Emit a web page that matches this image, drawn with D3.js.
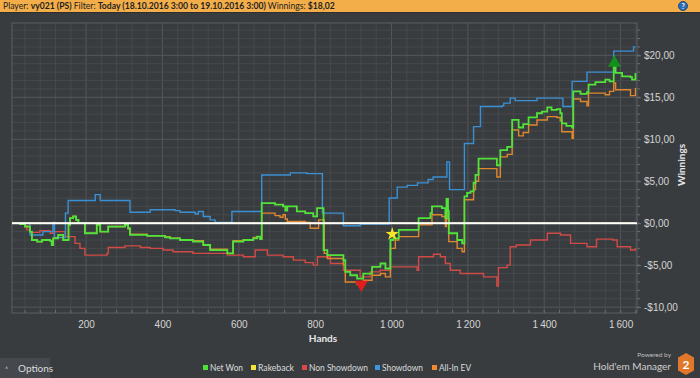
<!DOCTYPE html>
<html>
<head>
<meta charset="utf-8">
<script src="https://cdn.jsdelivr.net/npm/d3@7"></script>
<style>
  body { margin: 0; background: #393c3f; overflow: hidden; }
  svg { display: block; font-family: Lato, "Open Sans", sans-serif; }
</style>
</head>
<body>
<div id="chart"></div>
<script>
// Series: [hands, winnings $]
const netWon = [[6,0],[27,-0.1],[40,-0.4],[53,-1.0],[58,-2.0],[72,-2.2],[85,-2.0],[106,-2.1],[110,-2.6],[114,-1.8],[127,-1.4],[140,-2.0],[154,-0.2],[158,0.6],[166,0.8],[174,0.4],[180,0],[197,-1.2],[228,-0.2],[237,-1.0],[258,-0.4],[302,-0.2],[310,-0.6],[315,-1.4],[360,-1.5],[407,-1.7],[420,-1.8],[446,-2.0],[480,-2.2],[507,-2.6],[525,-3.2],[570,-3.6],[585,-2.2],[612,-2.0],[638,-1.8],[648,-1.6],[656,-1.9],[660,2.4],[695,2.2],[716,2.0],[722,1.5],[727,2.0],[752,1.4],[774,1.2],[795,0.8],[805,1.8],[822,-3.2],[832,-3.8],[874,-4.4],[879,-5.8],[892,-6.2],[910,-6.6],[926,-6.0],[949,-5.2],[971,-4.8],[984,-5.4],[997,-2.0],[1005,-1.8],[1019,-0.8],[1071,0.6],[1102,1.2],[1106,2.0],[1132,1.8],[1141,0.6],[1144,2.9],[1148,1.5],[1150,-1.2],[1172,-2.0],[1185,-2.4],[1191,3.2],[1198,3.6],[1207,3.8],[1215,4.8],[1220,5.75],[1228,7.7],[1276,6.9],[1285,8.7],[1303,9.1],[1316,12.3],[1333,11.4],[1345,11.8],[1359,12.6],[1381,13.1],[1394,13.3],[1408,13.8],[1419,13.5],[1433,13.6],[1442,13.1],[1446,11.9],[1458,11.6],[1473,11.4],[1476,15.7],[1495,15.4],[1512,15.6],[1516,16.5],[1534,16.8],[1560,17.1],[1571,16.9],[1582,18.7],[1587,17.9],[1604,17.5],[1626,17.4],[1630,17.1],[1639,17.9]];

const allInEV = [[6,0],[27,-0.1],[40,-0.4],[53,-1.0],[58,-2.0],[72,-2.2],[85,-2.0],[106,-2.1],[110,-2.6],[114,-1.8],[127,-1.4],[140,-2.0],[154,-0.2],[158,0.6],[166,0.8],[174,0.4],[180,0],[197,-1.2],[228,-0.2],[237,-1.0],[258,-0.4],[302,-0.2],[310,-0.7],[315,-1.3],[360,-1.5],[407,-1.6],[420,-1.8],[446,-2.0],[480,-2.1],[507,-2.6],[525,-3.1],[570,-3.6],[585,-2.1],[612,-2.0],[638,-1.7],[648,-1.6],[656,-1.9],[660,1.2],[695,0.9],[708,0.7],[716,1.0],[722,0.5],[727,0.2],[774,0.1],[787,-0.6],[809,0.4],[824,-3.6],[832,-4.2],[874,-5.0],[879,-7.0],[910,-7.3],[926,-6.8],[949,-6.2],[971,-6.0],[984,-6.4],[997,-3.0],[1010,-2.0],[1019,-1.6],[1071,-0.2],[1106,1.0],[1132,0.8],[1141,-0.4],[1144,1.8],[1148,0.5],[1150,-2.2],[1172,-3.0],[1185,-3.4],[1191,2.8],[1207,2.8],[1215,4.0],[1220,5.0],[1228,6.5],[1276,5.5],[1285,7.9],[1303,8.2],[1316,11.1],[1333,10.4],[1345,10.8],[1359,11.7],[1381,12.3],[1408,12.7],[1433,12.6],[1442,12.2],[1446,10.9],[1473,10.1],[1476,14.8],[1495,14.5],[1512,14.0],[1516,15.5],[1560,15.3],[1571,15.7],[1582,16.7],[1587,15.9],[1626,15.2],[1639,16.1]];

const showdown = [[6,0],[45,0],[53,-1.4],[87,-1.0],[113,0.1],[117,-1.7],[146,1.2],[153,2.7],[224,3.4],[237,2.7],[315,1.3],[368,1.6],[433,1.5],[446,1.3],[486,1.1],[494,1.4],[507,0.8],[525,0.4],[538,0.1],[582,1.4],[660,5.75],[735,6.0],[778,5.9],[819,1.2],[874,-0.3],[918,-0.1],[994,3.0],[1015,4.3],[1041,4.5],[1068,4.8],[1096,5.2],[1109,5.5],[1145,7.3],[1152,4.0],[1191,9.5],[1215,11.5],[1233,13.9],[1290,14.0],[1294,14.3],[1311,14.9],[1324,14.6],[1381,14.9],[1449,13.9],[1473,16.9],[1512,18.0],[1582,20.5],[1634,21.0],[1639,21.0]];

const nonShowdown = [[6,0],[40,-0.3],[45,-0.8],[53,-1.1],[79,-0.9],[106,-1.2],[113,-1.0],[145,-1.6],[171,-2.4],[184,-3.0],[197,-3.8],[255,-3.6],[258,-2.9],[302,-2.7],[342,-2.9],[368,-3.0],[402,-3.2],[428,-3.4],[480,-3.6],[570,-3.8],[612,-4.0],[643,-3.2],[675,-3.8],[716,-4.0],[743,-4.4],[774,-4.7],[795,-5.0],[806,-4.0],[840,-4.8],[874,-5.6],[918,-6.4],[944,-5.8],[970,-5.6],[997,-5.2],[1067,-5.6],[1071,-4.0],[1110,-3.7],[1128,-4.0],[1141,-4.8],[1154,-5.6],[1180,-6.0],[1241,-6.4],[1276,-7.5],[1280,-5.3],[1303,-5.0],[1311,-2.8],[1327,-2.6],[1364,-2.0],[1408,-1.2],[1443,-1.4],[1469,-2.4],[1512,-2.8],[1537,-1.9],[1580,-2.0],[1591,-2.8],[1626,-3.2],[1639,-3.0]];

const rakeback = [[6,0],[1639,0]];

// Markers on the Net Won line
const markers = [
  { type: "star", hand: 1002, value: -1.3, color: "#f4e52a" },
  { type: "down", hand: 921, value: -7.3, color: "#e01e1e" },
  { type: "up", hand: 1584, value: 19.1, color: "#138f1c" }
];

const legendNames = ["Net Won", "Rakeback", "Non Showdown", "Showdown", "All-In EV"];
const legendColors = ["#4fe03a", "#f2e43a", "#e04848", "#3a96e0", "#ef8a2e"];
const xTicks = [200, 400, 600, 800, 1000, 1200, 1400, 1600];
const yTicks = [-10, -5, 0, 5, 10, 15, 20];

const width = 700, height = 378;
const plot = { left: 12, right: 637, top: 23, bottom: 313 };

const svg = d3.select("#chart").append("svg")
  .attr("width", width)
  .attr("height", height);

svg.append("rect").attr("width", width).attr("height", height).attr("fill", "#393c3f");

// Top bar
svg.append("rect").attr("x", 0).attr("y", 0).attr("width", width).attr("height", 12).attr("fill", "#f3ae4a");
svg.append("line").attr("x1", 0).attr("x2", width).attr("y1", 12.5).attr("y2", 12.5).attr("stroke", "#2c2e30");
const title = svg.append("text").attr("x", 3).attr("y", 9).attr("font-size", "8.6px").attr("fill", "#222");
title.append("tspan").text("Player: ");
title.append("tspan").attr("font-weight", "bold").text("vy021 (PS)");
title.append("tspan").text(" Filter: ");
title.append("tspan").attr("font-weight", "bold").text("Today (18.10.2016 3:00 to 19.10.2016 3:00)");
title.append("tspan").text(" Winnings: ");
title.append("tspan").attr("font-weight", "bold").text("$18,02");
// help icon
svg.append("circle").attr("cx", 683).attr("cy", 6).attr("r", 4.5).attr("fill", "#2d6cb5").attr("stroke", "#1b4a85");
svg.append("text").attr("x", 683).attr("y", 9).attr("text-anchor", "middle").attr("font-size", "7px")
  .attr("font-weight", "bold").attr("fill", "#fff").text("?");

// Scales
const x = d3.scaleLinear().domain([6, 1643]).range([plot.left, plot.right]);
const y = d3.scaleLinear().domain([-10.7, 23.85]).range([plot.bottom, plot.top]);

// Grid
const grid = svg.append("g");
grid.selectAll(".vminor").data(d3.range(40, 1641, 40)).join("line")
  .attr("x1", d => x(d)).attr("x2", d => x(d)).attr("y1", plot.top).attr("y2", plot.bottom)
  .attr("stroke", d => d % 200 === 0 ? "#53575b" : "#45494d").attr("stroke-width", 1);
grid.selectAll(".hminor").data(d3.range(-10, 24, 1)).join("line")
  .attr("class", "hminor")
  .attr("x1", plot.left).attr("x2", plot.right).attr("y1", d => y(d)).attr("y2", d => y(d))
  .attr("stroke", d => d % 5 === 0 ? "#53575b" : "#45494d").attr("stroke-width", 1);
svg.append("rect")
  .attr("x", plot.left).attr("y", plot.top)
  .attr("width", plot.right - plot.left).attr("height", plot.bottom - plot.top)
  .attr("fill", "none").attr("stroke", "#5a5e62");

// Axes
const yAxis = d3.axisRight(y).tickValues(yTicks)
  .tickFormat(d => (d < 0 ? "-$" : "$") + Math.abs(d).toFixed(2).replace(".", ","))
  .tickSize(4);
const gy = svg.append("g").attr("transform", `translate(${plot.right},0)`).call(yAxis);
gy.select(".domain").remove();
gy.selectAll("line").attr("stroke", "#6a6e72");
gy.selectAll("text").attr("fill", "#d4d4d4").attr("font-size", "10px").attr("x", 7);
svg.append("g").attr("transform", `translate(${plot.right},0)`)
  .selectAll("line").data(d3.range(-10, 24, 1)).join("line")
  .attr("x1", 0).attr("x2", 3).attr("y1", d => y(d)).attr("y2", d => y(d)).attr("stroke", "#6a6e72");

const xAxis = d3.axisBottom(x).tickValues(xTicks)
  .tickFormat(d => d >= 1000 ? d3.format(",")(d).replace(",", "\u2009") : d)
  .tickSize(0);
const gx = svg.append("g").attr("transform", `translate(0,${plot.bottom})`).call(xAxis);
gx.select(".domain").remove();
gx.selectAll("text").attr("fill", "#d4d4d4").attr("font-size", "10px").attr("dy", "1.2em");
svg.append("g").selectAll("line").data(d3.range(40, 1641, 40)).join("line")
  .attr("x1", d => x(d)).attr("x2", d => x(d)).attr("y1", plot.bottom).attr("y2", plot.bottom - 3)
  .attr("stroke", "#6a6e72");

svg.append("text").attr("x", 323).attr("y", 342).attr("text-anchor", "middle")
  .attr("font-size", "10px").attr("font-weight", "bold").attr("fill", "#e6e6e6").text("Hands");
svg.append("text").attr("transform", "rotate(-90)").attr("x", -165).attr("y", 685)
  .attr("text-anchor", "middle").attr("font-size", "10px").attr("font-weight", "bold")
  .attr("fill", "#e6e6e6").text("Winnings");

// Lines
const line = d3.line().x(d => x(d[0])).y(d => y(d[1])).curve(d3.curveStepAfter);
const lines = svg.append("g");
const series = [
  { data: nonShowdown, color: "#d24a45", w: 1.4 },
  { data: showdown, color: "#3a90d4", w: 1.4 },
  { data: rakeback, color: "#f2e43a", w: 1.4 },
  { data: allInEV, color: "#e0862e", w: 1.4 },
  { data: netWon, color: "#52e23a", w: 1.8 }
];
lines.selectAll("path").data(series).join("path")
  .attr("d", d => line(d.data))
  .attr("fill", "none")
  .attr("stroke", d => d.color)
  .attr("stroke-width", d => d.w);

// Zero line
svg.append("line").attr("x1", plot.left).attr("x2", plot.right).attr("y1", y(0)).attr("y2", y(0))
  .attr("stroke", "#ffffff").attr("stroke-width", 2);

// Markers
const symType = { star: d3.symbolStar, down: d3.symbolTriangle, up: d3.symbolTriangle };
svg.selectAll(".marker").data(markers).join("path")
  .attr("class", "marker")
  .attr("d", d => d3.symbol().type(symType[d.type]).size(d.type === "star" ? 55 : 75)())
  .attr("transform", d => `translate(${x(d.hand)},${y(d.value)})` + (d.type === "down" ? " rotate(180)" : ""))
  .attr("fill", d => d.color);

// Legend
const legendX = [203, 251, 302, 375, 432];
const legendW = [33, 36, 59, 41, 32];
const legend = svg.append("g");
legend.selectAll("rect").data(legendNames).join("rect")
  .attr("x", (d, i) => legendX[i]).attr("y", 365).attr("width", 5).attr("height", 5)
  .attr("fill", (d, i) => legendColors[i]);
legend.selectAll("text").data(legendNames).join("text")
  .attr("x", (d, i) => legendX[i] + 7).attr("y", 371)
  .attr("font-size", "9.5px").attr("fill", "#dcdcdc")
  .attr("textLength", (d, i) => legendW[i]).attr("lengthAdjust", "spacingAndGlyphs")
  .text(d => d);

// Options button
svg.append("rect").attr("x", 0).attr("y", 358).attr("width", 50).attr("height", 20).attr("fill", "#45484c");
svg.append("text").attr("x", 5).attr("y", 372).attr("font-size", "7px").attr("fill", "#cfcfcf").text("\u02c4");
svg.append("text").attr("x", 18).attr("y", 372).attr("font-size", "10px").attr("fill", "#dcdcdc").text("Options");

// Branding
svg.append("text").attr("x", 671).attr("y", 357).attr("text-anchor", "end")
  .attr("font-size", "6.5px").attr("fill", "#bdbdbd").text("Powered by");
svg.append("text").attr("x", 671).attr("y", 370).attr("text-anchor", "end")
  .attr("font-size", "10px").attr("fill", "#cfcfcf").text("Hold'em Manager");
svg.append("path")
  .attr("d", "M686,353 L694,357.5 L694,370.5 L686,375 L678,370.5 L678,357.5 Z")
  .attr("fill", "#e0772a");
svg.append("text").attr("x", 686).attr("y", 369).attr("text-anchor", "middle")
  .attr("font-size", "12px").attr("font-weight", "bold").attr("fill", "#fff").text("2");
</script>
</body>
</html>
